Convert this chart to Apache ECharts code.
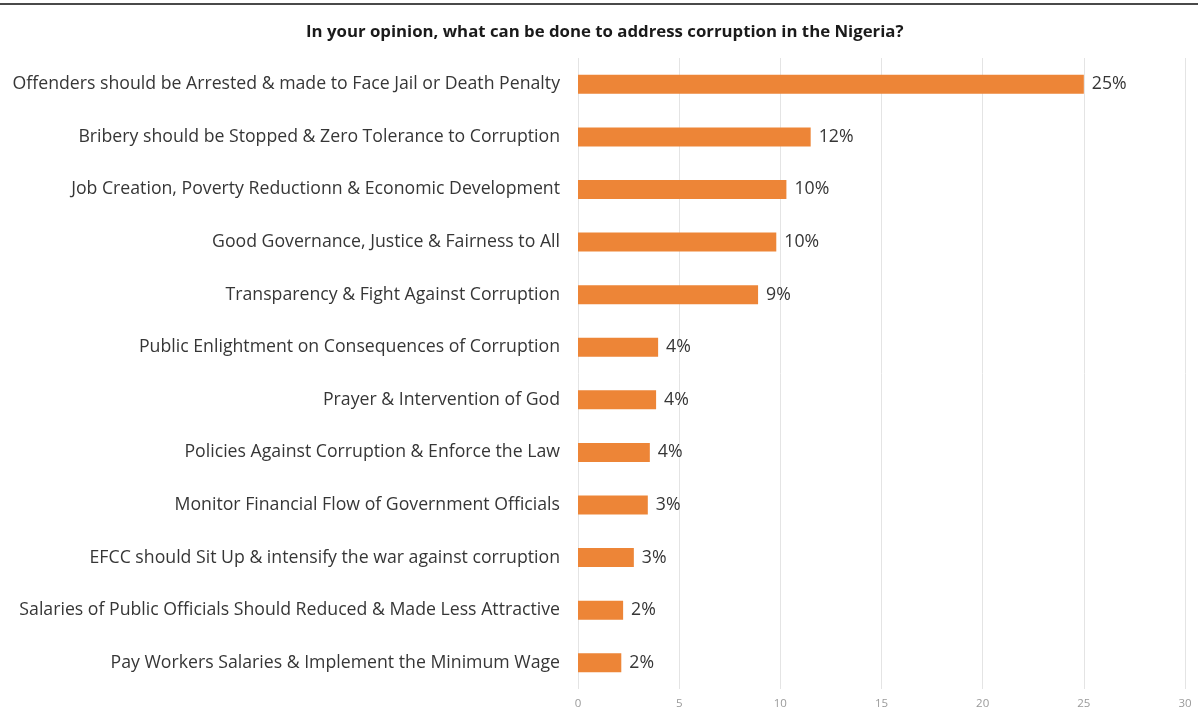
<!DOCTYPE html>
<html>
<head>
<meta charset="utf-8">
<script src="https://cdn.jsdelivr.net/npm/echarts@6/dist/echarts.min.js"></script>
<style>
  html, body { margin: 0; padding: 0; background: #fff; }
  #chart { width: 1198px; height: 711px; }
</style>
</head>
<body>
<div id="chart"></div>
<script>
// Survey responses: suggested measures against corruption (% of respondents)
const categories = [
  'Offenders should be Arrested & made to Face Jail or Death Penalty',
  'Bribery should be Stopped & Zero Tolerance to Corruption',
  'Job Creation, Poverty Reductionn & Economic Development',
  'Good Governance, Justice & Fairness to All',
  'Transparency & Fight Against Corruption',
  'Public Enlightment on Consequences of Corruption',
  'Prayer & Intervention of God',
  'Policies Against Corruption & Enforce the Law',
  'Monitor Financial Flow of Government Officials',
  'EFCC should Sit Up & intensify the war against corruption',
  'Salaries of Public Officials Should Reduced & Made Less Attractive',
  'Pay Workers Salaries & Implement the Minimum Wage'
];
const shares = [25.0, 11.5, 10.3, 9.8, 8.9, 3.96, 3.86, 3.55, 3.45, 2.76, 2.23, 2.14];
const axisTicks = [0, 5, 10, 15, 20, 25, 30];

const titleText = 'In your opinion, what can be done to address corruption in the Nigeria?';
const fontFamily = '"Open Sans", "Liberation Sans", sans-serif';

const chart = echarts.init(document.getElementById('chart'));
chart.setOption({
  backgroundColor: '#ffffff',
  animation: false,
  title: {
    text: titleText,
    left: 301,
    top: 19,
    textStyle: { fontFamily, fontSize: 16.8, fontWeight: 'bold', color: '#1a1a1a' }
  },
  graphic: [{
    type: 'rect',
    shape: { x: 0, y: 3, width: 1198, height: 2 },
    style: { fill: '#4a4a4a' }
  }],
  grid: { left: 578, right: 13, top: 58, bottom: 22, containLabel: false },
  xAxis: {
    type: 'value',
    min: axisTicks[0],
    max: axisTicks[axisTicks.length - 1],
    interval: axisTicks[1] - axisTicks[0],
    axisLine: { show: false },
    axisTick: { show: false },
    splitLine: { show: true, lineStyle: { color: '#e4e4e4', width: 1 } },
    axisLabel: { color: '#9a9a9a', fontSize: 11.5, fontFamily, margin: 9 }
  },
  yAxis: {
    type: 'category',
    inverse: true,
    data: categories,
    axisLine: { show: false },
    axisTick: { show: false },
    axisLabel: { color: '#363636', fontSize: 17.7, fontFamily, margin: 18 }
  },
  series: [{
    type: 'bar',
    data: shares,
    barWidth: 19,
    itemStyle: { color: '#ED8537' },
    label: {
      show: true,
      position: 'right',
      distance: 8,
      color: '#363636',
      fontSize: 17.7,
      fontFamily,
      formatter: p => Math.round(p.value) + '%'
    }
  }]
});
</script>
</body>
</html>
